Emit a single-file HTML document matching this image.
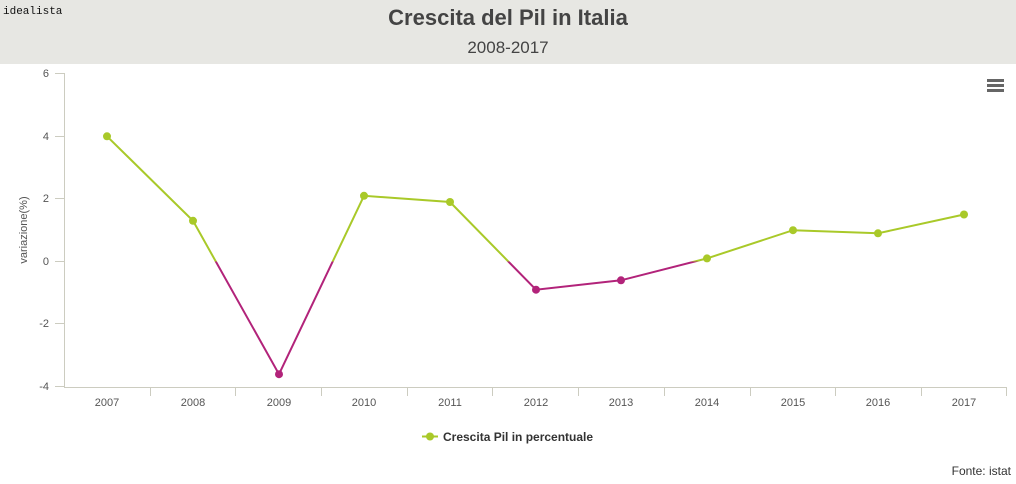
<!DOCTYPE html>
<html><head><meta charset="utf-8"><style>
body{margin:0;width:1016px;height:484px;overflow:hidden;background:#fff;font-family:"Liberation Sans",sans-serif}
</style></head><body>
<svg width="1016" height="484" xmlns="http://www.w3.org/2000/svg" style="position:absolute;left:0;top:0">
<defs>
<clipPath id="top"><rect x="0" y="0" width="1016" height="261.5"/></clipPath>
<clipPath id="bot"><rect x="0" y="261.5" width="1016" height="230"/></clipPath>
</defs>
<rect x="0" y="0" width="1016" height="64" fill="#e7e7e3"/>
<text x="3" y="14" font-size="11" fill="#111" font-family="Liberation Mono,monospace">idealista</text>
<text x="508" y="25" text-anchor="middle" font-size="22" font-weight="bold" fill="#444">Crescita del Pil in Italia</text>
<text x="508" y="53" text-anchor="middle" font-size="17" fill="#444">2008-2017</text>
<g fill="#666"><rect x="987" y="79" width="17" height="3"/><rect x="987" y="84" width="17" height="3"/><rect x="987" y="89" width="17" height="3"/></g>
<g stroke="#ccccc0" stroke-width="1">
<line x1="64.5" y1="73" x2="64.5" y2="387"/>
<line x1="64" y1="387.5" x2="1006" y2="387.5"/>
<line x1="55" y1="73.5" x2="64" y2="73.5"/><line x1="55" y1="136.5" x2="64" y2="136.5"/><line x1="55" y1="198.5" x2="64" y2="198.5"/><line x1="55" y1="261.5" x2="64" y2="261.5"/><line x1="55" y1="323.5" x2="64" y2="323.5"/><line x1="55" y1="386.5" x2="64" y2="386.5"/>
<line x1="150.5" y1="387" x2="150.5" y2="396"/><line x1="235.5" y1="387" x2="235.5" y2="396"/><line x1="321.5" y1="387" x2="321.5" y2="396"/><line x1="407.5" y1="387" x2="407.5" y2="396"/><line x1="492.5" y1="387" x2="492.5" y2="396"/><line x1="578.5" y1="387" x2="578.5" y2="396"/><line x1="664.5" y1="387" x2="664.5" y2="396"/><line x1="750.5" y1="387" x2="750.5" y2="396"/><line x1="835.5" y1="387" x2="835.5" y2="396"/><line x1="921.5" y1="387" x2="921.5" y2="396"/><line x1="1006.5" y1="387" x2="1006.5" y2="396"/>
</g>
<g font-size="11" fill="#555" text-anchor="end">
<text x="49" y="77">6</text><text x="49" y="140">4</text><text x="49" y="202">2</text><text x="49" y="265">0</text><text x="49" y="327">-2</text><text x="49" y="390">-4</text>
</g>
<text transform="translate(27,230) rotate(-90)" text-anchor="middle" font-size="11" fill="#555">variazione(%)</text>
<g font-size="11" fill="#555" text-anchor="middle">
<text x="107" y="406">2007</text><text x="193" y="406">2008</text><text x="279" y="406">2009</text><text x="364" y="406">2010</text><text x="450" y="406">2011</text><text x="536" y="406">2012</text><text x="621" y="406">2013</text><text x="707" y="406">2014</text><text x="793" y="406">2015</text><text x="878" y="406">2016</text><text x="964" y="406">2017</text>
</g>
<polyline clip-path="url(#top)" fill="none" stroke="#a9c929" stroke-width="2" points="107,136.3 193,220.8 279,374.2 364,195.8 450,202 536,289.7 621,280.3 707,258.4 793,230.2 878,233.3 964,214.5"/>
<polyline clip-path="url(#bot)" fill="none" stroke="#b2237a" stroke-width="2" points="107,136.3 193,220.8 279,374.2 364,195.8 450,202 536,289.7 621,280.3 707,258.4 793,230.2 878,233.3 964,214.5"/>
<g fill="#a9c929">
<circle cx="107" cy="136.3" r="4"/><circle cx="193" cy="220.8" r="4"/><circle cx="364" cy="195.8" r="4"/><circle cx="450" cy="202" r="4"/><circle cx="707" cy="258.4" r="4"/><circle cx="793" cy="230.2" r="4"/><circle cx="878" cy="233.3" r="4"/><circle cx="964" cy="214.5" r="4"/>
</g>
<g fill="#b2237a">
<circle cx="279" cy="374.2" r="4"/><circle cx="536" cy="289.7" r="4"/><circle cx="621" cy="280.3" r="4"/>
</g>
<line x1="422" y1="436.5" x2="438" y2="436.5" stroke="#a9c929" stroke-width="2"/>
<circle cx="430" cy="436.5" r="4" fill="#a9c929"/>
<text x="443" y="441" font-size="12" font-weight="bold" fill="#333">Crescita Pil in percentuale</text>
<text x="1011" y="475" text-anchor="end" font-size="12" fill="#333">Fonte: istat</text>
</svg>
</body></html>
